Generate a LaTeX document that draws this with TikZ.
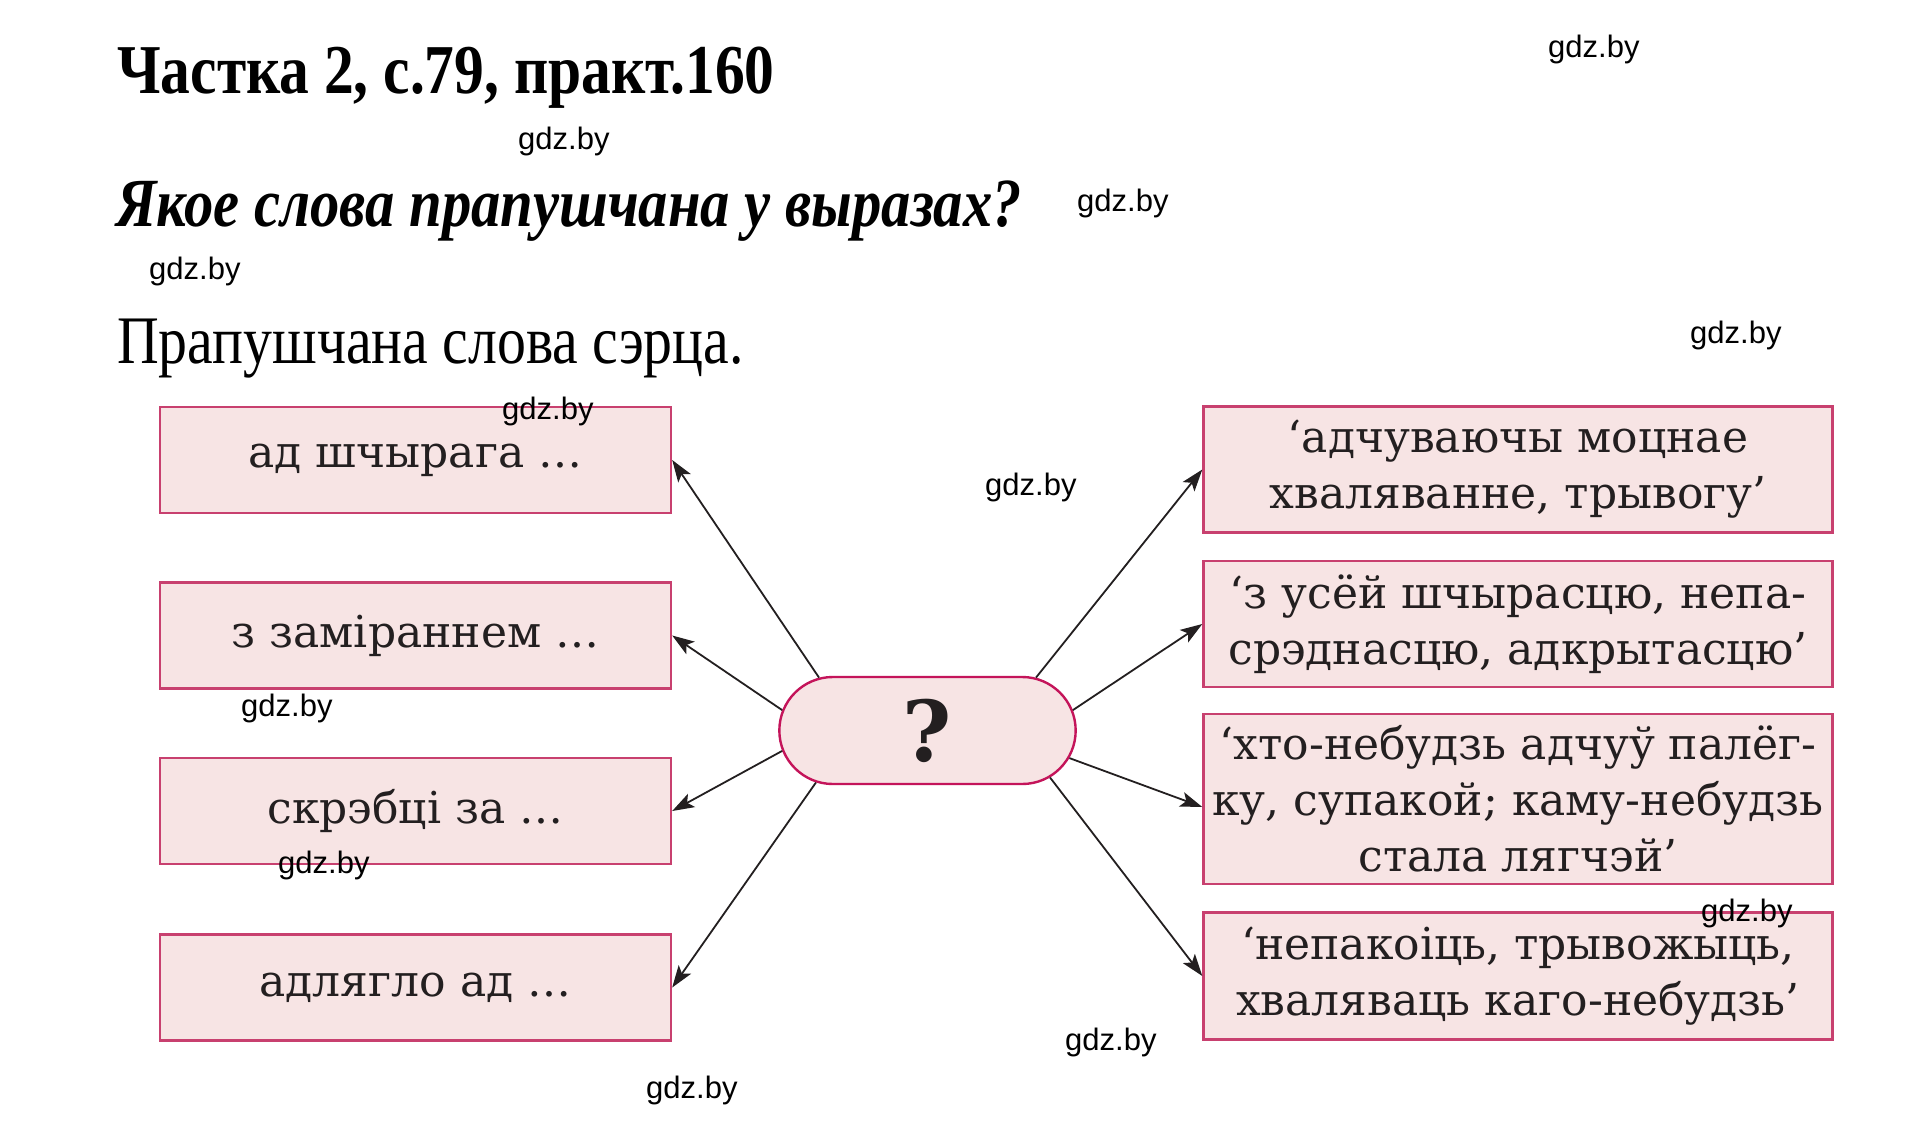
\documentclass[tikz,border=0pt]{standalone}
\usepackage{fontspec}
\setmainfont[FakeStretch=0.85]{Liberation Serif}
\newfontfamily\boxfont{DejaVu Serif}
\newfontfamily\wmfont{Liberation Sans}
\usetikzlibrary{shapes.misc,arrows.meta,positioning}
\definecolor{boxline}{HTML}{C8406F}
\definecolor{qline}{HTML}{C4145A}
\definecolor{boxfill}{HTML}{F7E4E4}
\definecolor{ink}{HTML}{231F20}

\begin{document}
\begin{tikzpicture}[x=1pt,y=-1pt,
		box/.style={draw=boxline,line width=2.4pt,fill=boxfill,inner sep=0pt,
			text=ink,align=center,font=\boxfont\fontsize{44}{56}\selectfont},
		lbox/.style={box,minimum width=511,minimum height=106},
		rbox/.style={box,minimum width=629},
		qbox/.style={draw=qline,line width=2.4pt,fill=boxfill,rounded rectangle,
			minimum width=303,minimum height=107,text=ink,
			font=\boxfont\bfseries\fontsize{84}{84}\selectfont},
		wm/.style={anchor=west,inner sep=0pt,font=\wmfont\fontsize{31}{31}\selectfont},
		arr/.style={-{Stealth[length=22pt,width=15pt,inset=5pt]},line width=1.8pt,ink}]
		\useasboundingbox (0,0) rectangle (1919,1141);
		\fill[white] (0,0) rectangle (1919,1141);
		% heading
		\node[anchor=base west,inner sep=0pt,font=\bfseries\fontsize{70}{70}\selectfont] (title) at (117,93) {Частка 2, с.79, практ.160};
		\node[anchor=base west,inner sep=0pt,font=\bfseries\itshape\fontsize{69}{69}\selectfont] (quest) at (116,226) {Якое слова прапушчана у выразах?};
		\node[anchor=base west,inner sep=0pt,font=\fontsize{68}{68}\selectfont] (answer) at (117,363) {Прапушчана слова сэрца.};
		% boxes
		\node[lbox] (l1) at (415.5,460) {ад шчырага …};
		\node[lbox] (l2) at (415.5,635.5) {з заміраннем …};
		\node[lbox] (l3) at (415.5,811) {скрэбці за …};
		\node[lbox] (l4) at (415.5,987.5) {адлягло ад …};
		\node[rbox,minimum height=126] (r1) at (1518,469.5) {‘адчуваючы моцнае\\хваляванне, трывогу’};
		\node[rbox,minimum height=126] (r2) at (1518,624) {‘з усёй шчырасцю, непа-\\срэднасцю, адкрытасцю’};
		\node[rbox,minimum height=170] (r3) at (1518,799) {‘хто-небудзь адчуў палёг-\\ку, супакой; каму-небудзь\\стала лягчэй’};
		\node[rbox,minimum height=127] (r4) at (1518,976) {‘непакоіць, трывожыць,\\хваляваць каго-небудзь’};
		\node[qbox] (q) at (927.5,730.5) {?};
		% arrows
		\draw[arr] (q.154) -- (l1.east);
		\draw[arr] (q.172) -- (l2.east);
		\draw[arr] (q.188) -- (l3.east);
		\draw[arr] (q.205) -- (l4.east);
		\draw[arr] (q.26) -- (r1.west);
		\draw[arr] (q.8) -- (r2.west);
		\draw[arr] (q.-11) -- ([yshift=-8pt]r3.west);
		\draw[arr] (q.-21) -- (r4.west);
		% watermarks
		\foreach \wx/\wy [count=\i] in {1548/49,518/141,1077/203,149/271,1690/335,502/411,
			985/487,241/708,278/865,1701/913,1065/1042,646/1090}
			\node[wm] (wm\i) at (\wx,\wy) {gdz.by};
	\end{tikzpicture}
\end{document}
